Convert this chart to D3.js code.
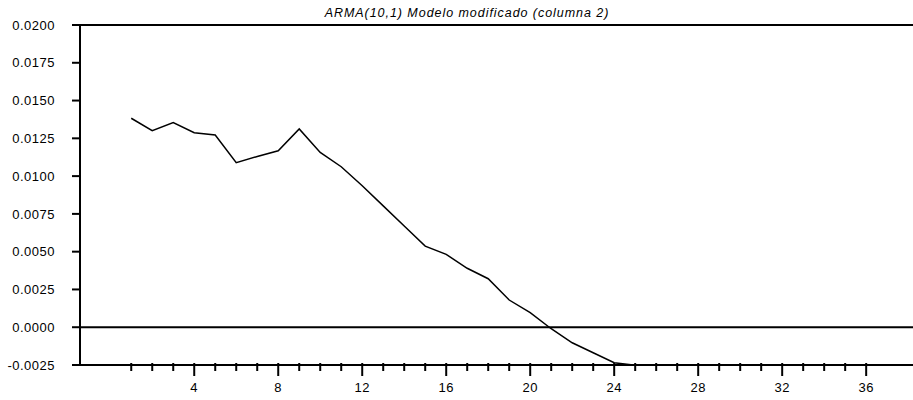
<!DOCTYPE html>
<html>
<head>
<meta charset="utf-8">
<script src="https://cdn.jsdelivr.net/npm/d3@7"></script>
<style>
  body { margin: 0; background: #fff; }
  text { font-family: "Liberation Sans", Arial, sans-serif; fill: #000; }
</style>
</head>
<body>
<div id="chart"></div>
<script>
// Chart data
var periods = [1, 2, 3, 4, 5, 6, 7, 8, 9, 10, 11, 12, 13, 14, 15, 16, 17, 18, 19, 20, 21, 22, 23, 24, 25];
var response = [0.01383, 0.01301, 0.01354, 0.01287, 0.01272, 0.01089, 0.01130, 0.01168, 0.01312, 0.01157,
  0.01062, 0.00936, 0.00803, 0.00670, 0.00537, 0.00482, 0.00390, 0.00321, 0.00180, 0.00096,
  -0.00010, -0.00103, -0.00169, -0.00235, -0.00252];
var yTickValues = [-0.0025, 0.0000, 0.0025, 0.0050, 0.0075, 0.0100, 0.0125, 0.0150, 0.0175, 0.0200];
var xMajorTicks = [4, 8, 12, 16, 20, 24, 28, 32, 36];
var xMinorTicks = d3.range(1, 37);
var chartTitle = "ARMA(10,1) Modelo modificado (columna 2)";

var widthSVG = 913;
var heightSVG = 400;

var margins = {
  top: 25,
  right: 0,
  bottom: 35,
  left: 80
};

var width = widthSVG - margins.left - margins.right;
var height = heightSVG - margins.top - margins.bottom;

var svg = d3.select("#chart")
  .append("svg")
  .attr("width", widthSVG)
  .attr("height", heightSVG);

var groupChart = svg.append("g")
  .attr("transform", `translate(${margins.left}, ${margins.top})`);

// Scales
var xScale = d3.scaleLinear()
  .domain([-1.44, 38.23])
  .range([0, width]);

var yScale = d3.scaleLinear()
  .domain([-0.0025, 0.02])
  .range([height, 0]);

var fmt = d3.format(".4f");

// Title
svg.append("text")
  .attr("x", 467)
  .attr("y", 17)
  .attr("text-anchor", "middle")
  .style("font-size", "12.5px")
  .style("letter-spacing", "0.95px")
  .style("font-style", "italic")
  .text(chartTitle);

// Left ticks and labels
groupChart.selectAll(".ytick")
  .data(yTickValues)
  .enter()
  .append("line")
  .attr("class", "ytick")
  .attr("x1", -8).attr("x2", 0)
  .attr("y1", d => yScale(d)).attr("y2", d => yScale(d))
  .attr("stroke", "#000")
  .attr("stroke-width", 2);

groupChart.selectAll(".ylabel")
  .data(yTickValues)
  .enter()
  .append("text")
  .attr("class", "ylabel")
  .attr("x", -25)
  .attr("y", d => yScale(d))
  .attr("dy", "0.36em")
  .attr("text-anchor", "end")
  .style("font-size", "13px")
  .style("letter-spacing", "0.5px")
  .text(d => fmt(d).replace("\u2212", "-"));

// frame lines: left, top, zero line, bottom
groupChart.append("line")
  .attr("x1", 0).attr("x2", 0)
  .attr("y1", yScale(0.02) - 1).attr("y2", yScale(-0.0025) + 1)
  .attr("stroke", "#000").attr("stroke-width", 2);

groupChart.append("line")
  .attr("x1", 0).attr("x2", width)
  .attr("y1", yScale(0.02)).attr("y2", yScale(0.02))
  .attr("stroke", "#000").attr("stroke-width", 2);

groupChart.append("line")
  .attr("x1", 0).attr("x2", width)
  .attr("y1", yScale(0)).attr("y2", yScale(0))
  .attr("stroke", "#000").attr("stroke-width", 2);

groupChart.append("line")
  .attr("x1", 0).attr("x2", width)
  .attr("y1", yScale(-0.0025)).attr("y2", yScale(-0.0025))
  .attr("stroke", "#000").attr("stroke-width", 2);

// Bottom axis ticks
var gBottom = groupChart.append("g")
  .attr("transform", `translate(0, ${height})`);

gBottom.selectAll(".minor")
  .data(xMinorTicks)
  .enter()
  .append("line")
  .attr("class", "minor")
  .attr("x1", d => xScale(d)).attr("x2", d => xScale(d))
  .attr("y1", -2)
  .attr("y2", d => xMajorTicks.indexOf(d) >= 0 ? 11 : 6)
  .attr("stroke", "#000")
  .attr("stroke-width", 2);

gBottom.selectAll(".xlabel")
  .data(xMajorTicks)
  .enter()
  .append("text")
  .attr("class", "xlabel")
  .attr("x", d => xScale(d))
  .attr("y", 27)
  .attr("text-anchor", "middle")
  .style("font-size", "13px")
  .style("letter-spacing", "0.5px")
  .text(d => d);

// Response line
var line = d3.line()
  .x((d, i) => xScale(periods[i]))
  .y(d => yScale(d));

groupChart.append("path")
  .datum(response)
  .attr("d", line)
  .attr("fill", "none")
  .attr("stroke", "#000")
  .attr("stroke-width", 1.5)
  .attr("stroke-linejoin", "miter");
</script>
</body>
</html>
